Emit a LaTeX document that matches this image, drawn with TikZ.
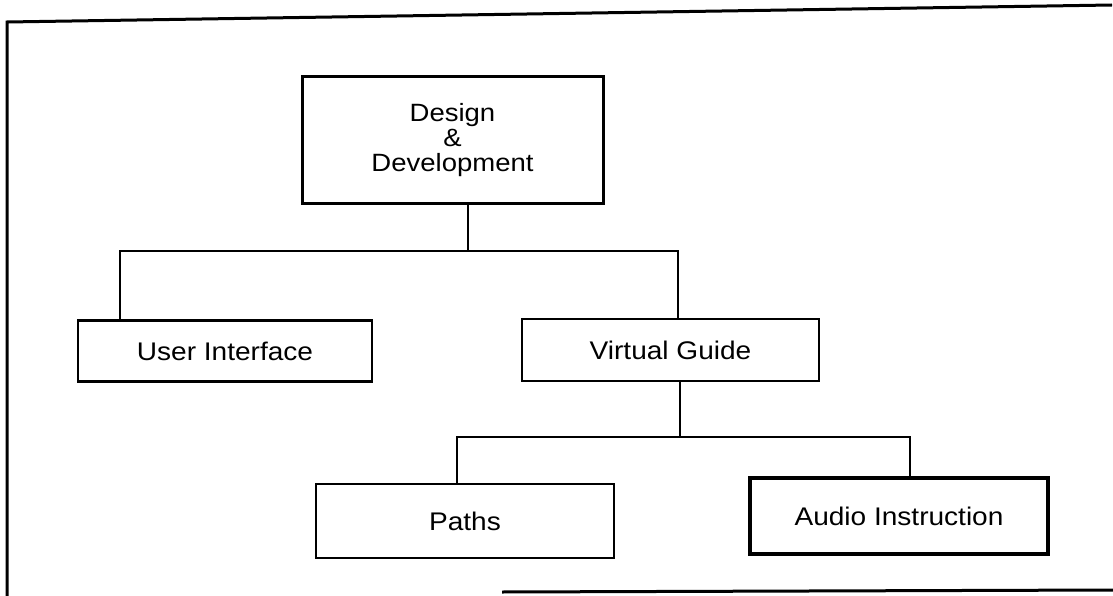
\documentclass[tikz,border=0pt]{standalone}
\usepackage{fontspec}
\setmainfont{Liberation Sans}[FakeStretch=1.1]
\begin{document}
\begin{tikzpicture}[x=1pt,y=-1pt,
  box/.style={draw=black, line width=2.4pt, fill=white, rectangle, inner sep=0pt,
              font=\fontsize{25.5}{30}\selectfont},
  link/.style={draw=black, line width=2.2pt, line cap=rect},
  frame/.style={draw=black, line width=3pt}]
\useasboundingbox (0,0) rectangle (1113,596);

% outer frame (top, left and lower edge)
\draw[frame] (7,596) -- (7,22) -- (1112,5);
\draw[frame] (502,592) -- (1113,590);

% boxes
\node[box, minimum width=301pt, minimum height=127pt, align=center,
      font=\fontsize{25}{25}\selectfont, line width=3pt]
  (dd) at (452.5,140.5) {Design\\\&\\Development};
\node[box, minimum width=294pt, minimum height=61pt] (ui) at (225,351) {User Interface};
\node[box, minimum width=297pt, minimum height=62pt] (vg) at (670.5,350) {Virtual Guide};
\node[box, minimum width=298pt, minimum height=74pt] (pa) at (465,521) {Paths};
\node[box, minimum width=298pt, minimum height=76pt, line width=3.4pt] (ai) at (899,516) {Audio Instruction};

% junction points of the tree
\coordinate (top) at (468,251);
\coordinate (tl) at (120,251);
\coordinate (tr) at (678,251);
\coordinate (mid) at (680,437);
\coordinate (ml) at (457,437);
\coordinate (mr) at (910,437);

% connectors
\draw[link] (top |- dd.south) -- (top);
\draw[link] (tl |- ui.north) -- (tl) -- (tr) -- (tr |- vg.north);
\draw[link] (mid |- vg.south) -- (mid);
\draw[link] (ml |- pa.north) -- (ml) -- (mr) -- (mr |- ai.north);
\end{tikzpicture}
\end{document}
